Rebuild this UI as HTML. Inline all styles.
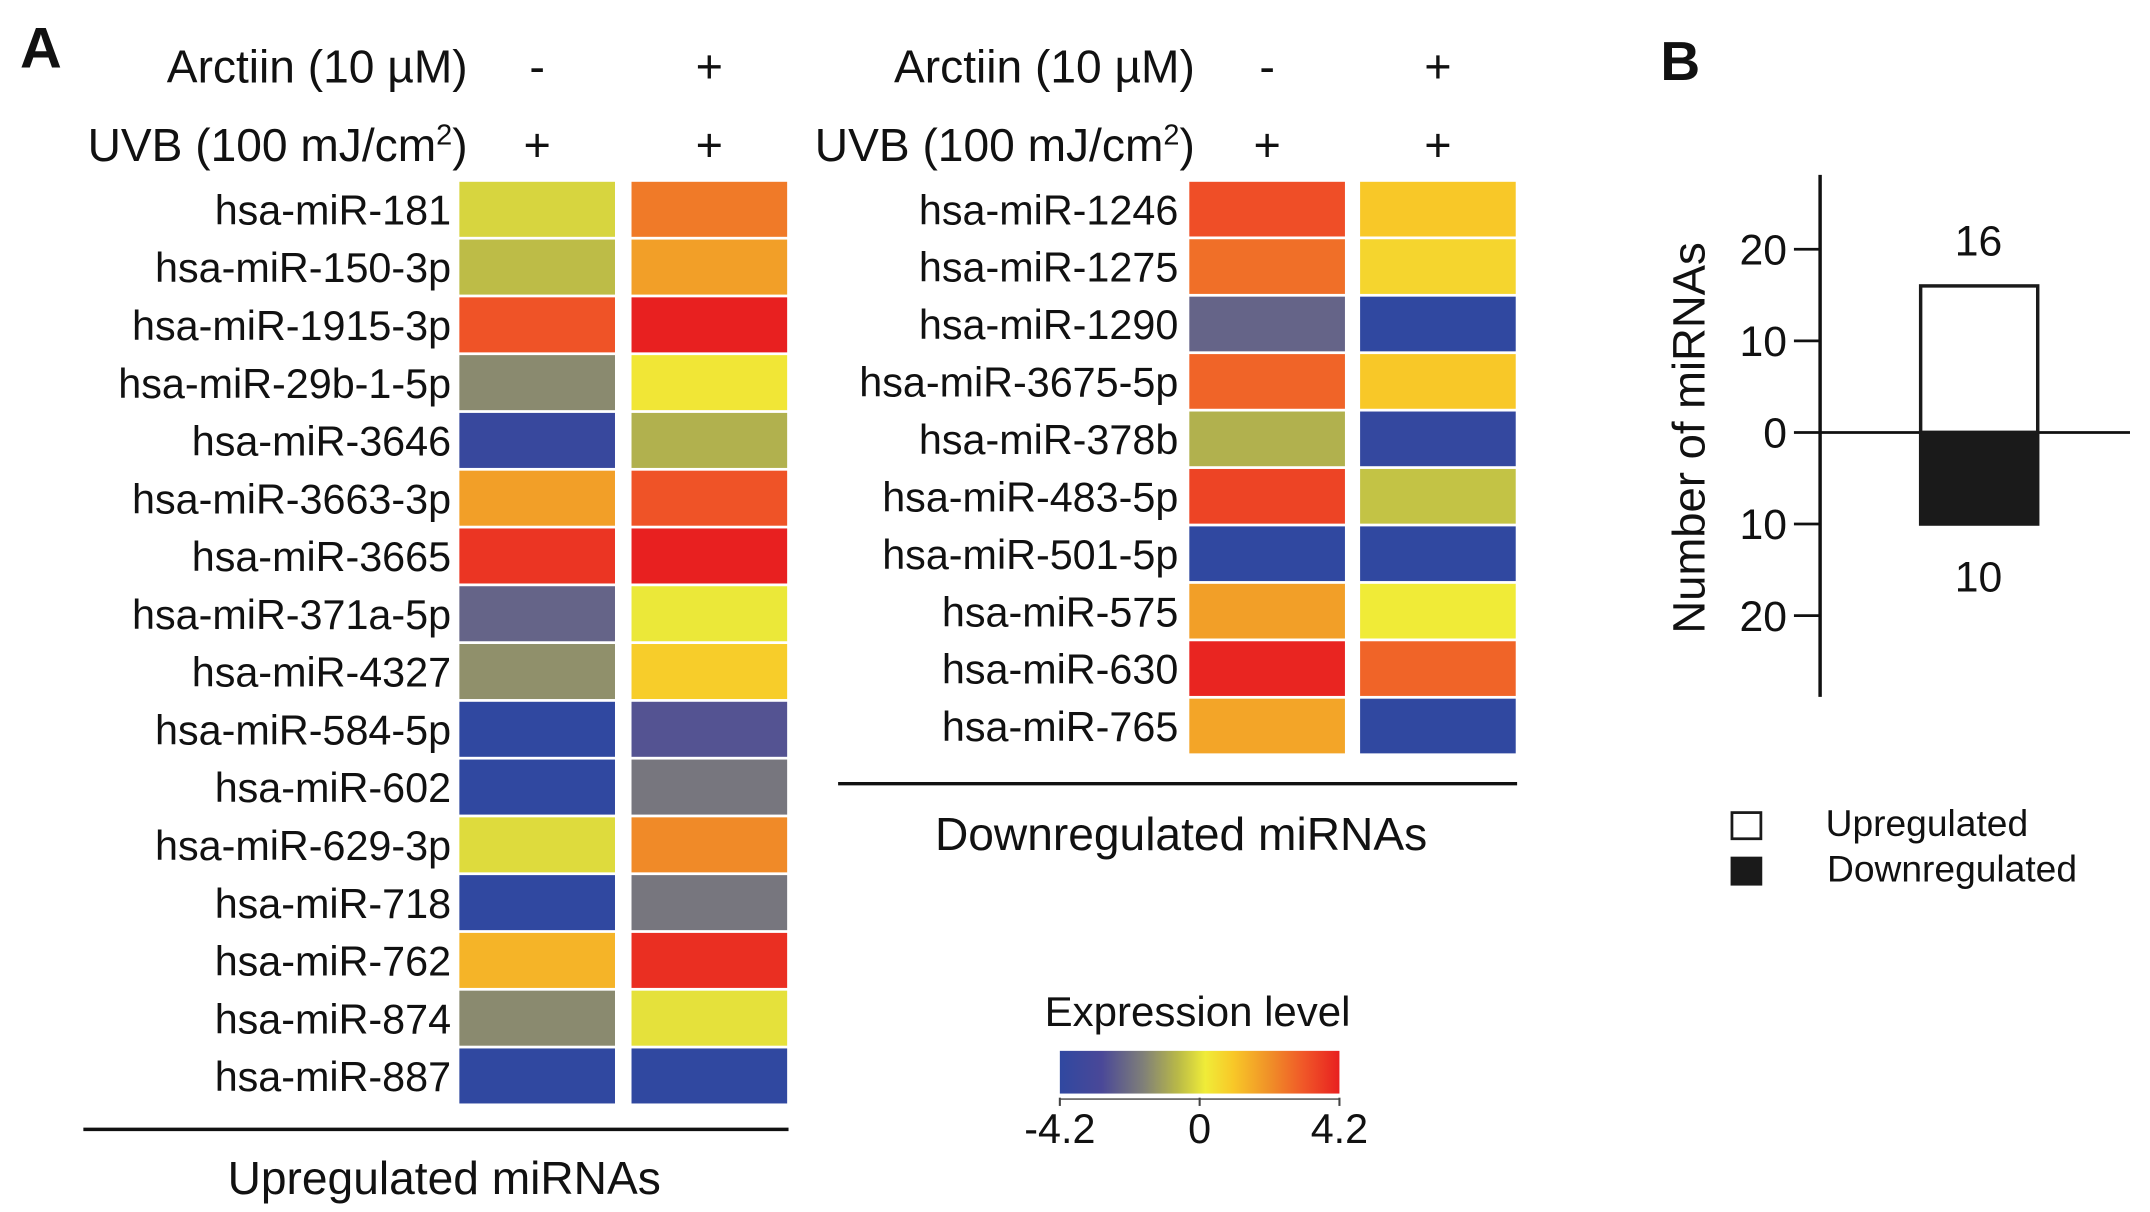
<!DOCTYPE html>
<html><head><meta charset="utf-8"><style>
html,body{margin:0;padding:0;background:#fff;}
svg{display:block;font-family:"Liberation Sans",Arial,sans-serif;}
</style></head><body>
<svg id="fig" width="2150" height="1212" viewBox="0 0 1560 880" xmlns="http://www.w3.org/2000/svg">
<defs>
<linearGradient id="cg" x1="0" x2="1" y1="0" y2="0">
<stop offset="0" stop-color="#3048a0"/><stop offset="0.15" stop-color="#4a4898"/>
<stop offset="0.3" stop-color="#808078"/><stop offset="0.42" stop-color="#b8b848"/>
<stop offset="0.52" stop-color="#f0ec38"/><stop offset="0.62" stop-color="#f8c828"/>
<stop offset="0.75" stop-color="#f09028"/><stop offset="0.87" stop-color="#f05828"/>
<stop offset="1" stop-color="#e82020"/></linearGradient>
</defs>
<g id="panelA"></g>
<g id="panelB"></g>
</svg>
<script>
const upNames=["hsa-miR-181","hsa-miR-150-3p","hsa-miR-1915-3p","hsa-miR-29b-1-5p","hsa-miR-3646","hsa-miR-3663-3p","hsa-miR-3665","hsa-miR-371a-5p","hsa-miR-4327","hsa-miR-584-5p","hsa-miR-602","hsa-miR-629-3p","hsa-miR-718","hsa-miR-762","hsa-miR-874","hsa-miR-887"];
const upCtrl=[-0.2,-0.6,3.2,-1.5,-3.8,1.8,3.8,-2.3,-1.4,-4.2,-4.2,-0.1,-4.2,1.4,-1.5,-4.2];
const upArc=[2.5,1.8,4.2,0.3,-0.8,3.2,4.2,0.1,0.9,-2.7,-1.9,2.2,-1.9,3.9,0,-4.2];
const downNames=["hsa-miR-1246","hsa-miR-1275","hsa-miR-1290","hsa-miR-3675-5p","hsa-miR-378b","hsa-miR-483-5p","hsa-miR-501-5p","hsa-miR-575","hsa-miR-630","hsa-miR-765"];
const downCtrl=[3.3,2.7,-2.3,2.9,-0.8,3.5,-4.2,1.8,4.1,1.7];
const downArc=[1.0,0.7,-4.2,1.0,-4.0,-0.5,-4.2,0.2,2.9,-4.2];
const barCats=["Upregulated","Downregulated"];
const barVals=[16,-10];
const yTicks=[20,10,0,-10,-20];
const cbTicks=[-4.2,0,4.2];

const NS="http://www.w3.org/2000/svg";
function mk(tag,attrs,parent,text){const e=document.createElementNS(NS,tag);for(const k in attrs)e.setAttribute(k,attrs[k]);if(text!==undefined)e.textContent=text;parent.appendChild(e);return e;}
const stops=[[-4.2,[48,72,160]],[-2.94,[74,72,152]],[-1.68,[128,128,120]],[-0.67,[184,184,72]],[0.17,[240,236,56]],[1.01,[248,200,40]],[2.1,[240,144,40]],[3.11,[240,88,40]],[4.2,[232,32,32]]];
function col(v){v=Math.max(-4.2,Math.min(4.2,v));for(let i=0;i<stops.length-1;i++){const a=stops[i],b=stops[i+1];if(v<=b[0]){const t=(v-a[0])/(b[0]-a[0]);const c=a[1].map((x,j)=>Math.round(x+(b[1][j]-x)*t));return`rgb(${c.join(',')})`;}}return"rgb(232,32,32)";}
const A=document.getElementById('panelA');
let t=mk('text',{x:14,y:49,'font-size':42,'font-weight':'bold',fill:'#111'},A,'A');



function heat(names,c1,c2,xl,x1,x2,w,top,rh,lineX0,lineY,title,titleX,titleY,key){
  const g=mk('g',{},A);
  
  
  let h=mk('text',{x:xl+12,y:60,'font-size':33.5,'text-anchor':'end',fill:'#111'},g,'Arctiin (10 µM)');
  
  
  h=mk('text',{x:xl+12,y:117,'font-size':33.5,'text-anchor':'end',fill:'#111'},g);
  
  
  h.innerHTML='UVB (100 mJ/cm<tspan dy="-12" font-size="21">2</tspan><tspan dy="12">)</tspan>';
  [["-","+"],["+","+"]].forEach((r,ri)=>{r.forEach((s,ci)=>{const e=mk('text',{x:(ci?x2:x1)+w/2,y:ri?117:60,'font-size':34,'text-anchor':'middle',fill:'#111'},g,s);
    
    });});
  names.forEach((n,i)=>{const y=top+i*rh;
    const l=mk('text',{x:xl,y:y+rh/2+11,'font-size':30,'text-anchor':'end',fill:'#111'},g,n);
    
    
    const a=mk('rect',{x:x1,y:y+1,width:w,height:rh-2,fill:col(c1[i])},g);
    
    
    const b=mk('rect',{x:x2,y:y+1,width:w,height:rh-2,fill:col(c2[i])},g);
    
    });
  const ln=mk('line',{x1:lineX0,x2:x2+w+1,y1:lineY,y2:lineY,stroke:'#111','stroke-width':2.5},g);
  
  
  const tt=mk('text',{x:titleX,y:titleY,'font-size':33.5,'text-anchor':'middle',fill:'#111'},g,title);
  
  
}
heat(upNames,upCtrl,upArc,327,333,458,113,131,41.95,60,820,'Upregulated miRNAs',322,867,'upregulated');
heat(downNames,downCtrl,downArc,855,863,987,113,131,41.7,608,569,'Downregulated miRNAs',857,617,'downregulated');

// colorbar
const cb=mk('g',{},A);


let ct=mk('text',{x:869,y:745,'font-size':30.5,'text-anchor':'middle',fill:'#111'},cb,'Expression level');


const cbr=mk('rect',{x:769,y:763,width:203,height:31,fill:'url(#cg)'},cb);


mk('line',{x1:769,x2:972,y1:798,y2:798,stroke:'#444','stroke-width':1},cb);
cbTicks.forEach(v=>{const x=769+(v+4.2)/8.4*203;
  mk('line',{x1:x,x2:x,y1:797,y2:803,stroke:'#444','stroke-width':1.5},cb);
  const e=mk('text',{x:x,y:830,'font-size':30,'text-anchor':'middle',fill:'#111'},cb,String(v));
  
  });

// panel B
const B=document.getElementById('panelB');
t=mk('text',{x:1205,y:58,'font-size':40,'font-weight':'bold',fill:'#111'},B,'B');


const y0=314,sc=6.65,ax=1321;
const Y=v=>y0-v*sc;
const axl=mk('line',{x1:ax,x2:ax,y1:127,y2:506,stroke:'#111','stroke-width':2.5},B);


const zl=mk('line',{x1:ax,x2:1546,y1:Y(0),y2:Y(0),stroke:'#111','stroke-width':2},B);


yTicks.forEach(v=>{mk('line',{x1:ax-19,x2:ax,y1:Y(v),y2:Y(v),stroke:'#111','stroke-width':2},B);
  const e=mk('text',{x:ax-24,y:Y(v)+11,'font-size':31,'text-anchor':'end',fill:'#111'},B,String(Math.abs(v)));
  
  });
const yl=mk('text',{x:0,y:0,'font-size':33,'text-anchor':'middle',fill:'#111',transform:'translate(1237,318) rotate(-90)'},B,'Number of miRNAs');


barVals.forEach((v,i)=>{const top=Math.min(Y(v),Y(0)),h=Math.abs(Y(v)-Y(0));
  const r=mk('rect',{x:1394,y:top,width:85,height:h,fill:v>0?'#fff':'#1a1a1a',stroke:'#1a1a1a','stroke-width':2.5},B);
  
  
  const e=mk('text',{x:1436,y:v>0?Y(v)-22:Y(v)+49,'font-size':31,'text-anchor':'middle',fill:'#111'},B,String(Math.abs(v)));
  
  });
barCats.forEach((c,i)=>{const y=590+i*33;
  const r=mk('rect',{x:1257,y:y,width:21,height:19,fill:i?'#1a1a1a':'#fff',stroke:'#1a1a1a','stroke-width':2},B);
  
  
  const e=mk('text',{x:1325+i,y:y+17,'font-size':27,fill:'#111'},B,c);
  
  });
</script>
</body></html>
